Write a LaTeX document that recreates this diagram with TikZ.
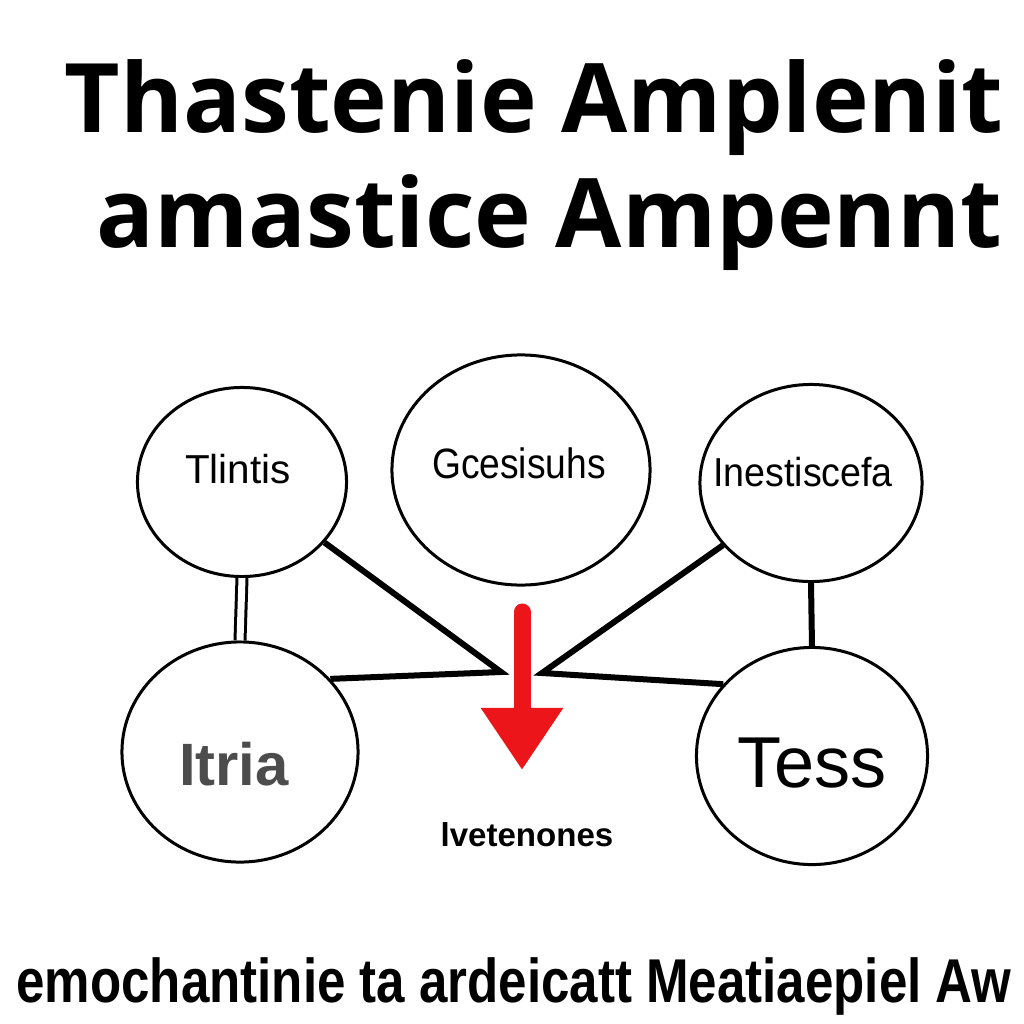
\documentclass[tikz,border=0pt]{standalone}
\usepackage{fontspec}
\usepackage{graphicx}
\setmainfont{Liberation Sans}
\newfontfamily\headfont{Open Sans}
\usetikzlibrary{shapes.geometric,arrows.meta}
\definecolor{arrowred}{RGB}{236,22,26}
\newcommand\ringwidth{0.03cm}
\newcommand\linkwidth{0.06cm}
\newcommand\labelsize{\fontsize{11.5}{13}\selectfont}

\begin{document}
\begin{tikzpicture}[x=0.01cm, y=-0.01cm]
	\tikzstyle{every node}=[inner sep=0pt]
	\tikzstyle{bubble}=[ellipse, draw, line width=\ringwidth, font=\labelsize]
	\tikzstyle{link}=[line width=\linkwidth, line join=miter]
	
	\useasboundingbox[fill=white] (0,0) rectangle (1024,1024);
	
	%heading
	\node[font=\headfont\bfseries\fontsize{27.3}{30}\selectfont, anchor=base] (head1) at (534,132) {Thastenie Amplenit};
	\node[font=\headfont\bfseries\fontsize{27.3}{30}\selectfont, anchor=base] (head2) at (549,247) {amastice Ampennt};
	
	%bubbles, top row
	\node[bubble, minimum width=2.09cm, minimum height=1.89cm] (tl) at (242,482) {};
	\node[bubble, minimum width=2.58cm, minimum height=2.30cm] (gc) at (521,470) {};
	\node[bubble, minimum width=2.22cm, minimum height=1.97cm] (in) at (811,483) {};
	
	%bubbles, bottom row
	\node[bubble, minimum width=2.36cm, minimum height=2.20cm] (it) at (240,752) {};
	\node[bubble, minimum width=2.31cm, minimum height=2.17cm] (te) at (812,756) {};
	
	%bubble texts
	\node[font=\labelsize, anchor=base] (tltext) at (238,483) {Tlintis};
	\node[font=\labelsize, anchor=base] (gctext) at (519,478) {\scalebox{0.92}[1.05]{Gcesisuhs}};
	\node[font=\labelsize, anchor=base] (intext) at (803,486) {\scalebox{0.93}[1]{Inestiscefa}};
	\node[font=\bfseries\fontsize{17}{19}\selectfont, text=black!70, anchor=base] (ittext) at (234,785) {Itria};
	\node[font=\fontsize{20.5}{23}\selectfont, anchor=base] (tetext) at (812,787) {Tess};
	
	%links
	\coordinate (tipL) at (501,672);
	\coordinate (tipR) at (542,673);
	\draw[link] (tl) -- (tipL) -- (it.39);
	\draw[link] (in) -- (tipR) -- (te.141);
	\draw[line width=0.06cm] (in.south) -- (te.north);
	\draw[double, line width=0.03cm, double distance=0.07cm] (tl.south) -- (it.north);
	
	%red arrow
	\coordinate (arrowtop) at (522,612);
	\coordinate (arrowtip) at (522,770);
	\draw[arrowred, line width=0.17cm, line cap=round, -{Triangle[length=0.62cm, width=0.78cm]}] (arrowtop) -- (arrowtip);
	\node[font=\bfseries\fontsize{9.4}{11}\selectfont, anchor=base] (caption) at (527,846) {lvetenones};
	
	%footer
	\node[font=\bfseries\fontsize{17.6}{20}\selectfont, anchor=base] (foot) at (514,1002) {\scalebox{0.825}[1]{emochantinie ta ardeicatt Meatiaepiel Aw}};
\end{tikzpicture}
\end{document}
